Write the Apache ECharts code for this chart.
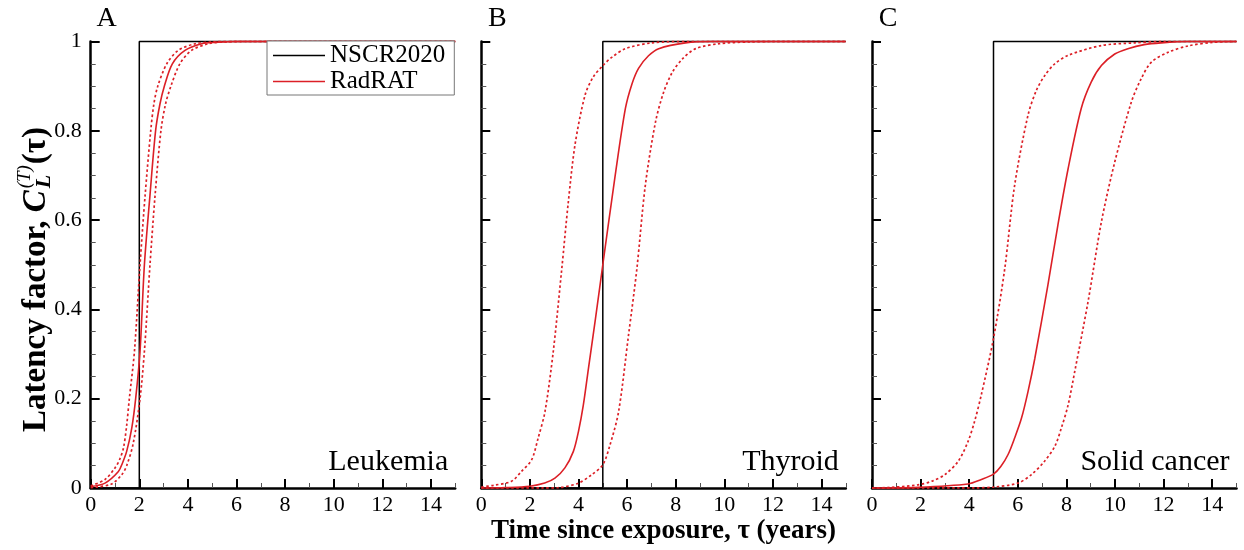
<!DOCTYPE html>
<html><head><meta charset="utf-8">
<script src="https://cdn.jsdelivr.net/npm/echarts@6/dist/echarts.min.js"></script>
<style>html,body{margin:0;padding:0;background:#fff}#c{width:1244px;height:550px}</style>
</head><body><div id="c"></div>
<script>
// ---- data ----
const panelLetters = ['A', 'B', 'C'];
const panelNames = ['Leukemia', 'Thyroid', 'Solid cancer'];
const xMajorTicks = [0, 2, 4, 6, 8, 10, 12, 14];
const xMinorTicks = [1, 3, 5, 7, 9, 11, 13, 15];
const xMax = 15;
const nscrOnset = [2, 5, 5];   // NSCR2020 step (years)

const leukemiaMedian = [[0,0.003],[0.59,0.011],[1.14,0.037],[1.3,0.055],[1.48,0.082],[1.69,0.134],[1.85,0.2],[2.03,0.306],[2.21,0.5],[2.44,0.656],[2.67,0.8],[2.85,0.86],[3.03,0.9],[3.36,0.95],[3.88,0.98],[4.57,0.995],[5.1,0.998],[6,1],[15,1]];
const leukemiaLow = [[0,0.005],[0.59,0.019],[1.0,0.045],[1.2,0.065],[1.35,0.09],[1.48,0.14],[1.59,0.2],[1.8,0.306],[2.03,0.5],[2.24,0.656],[2.47,0.8],[2.6,0.86],[2.76,0.9],[3.13,0.95],[3.6,0.98],[4.3,0.995],[5,0.999],[6,1],[15,1]];
const leukemiaHigh = [[0,0.001],[0.18,0.0015],[0.86,0.009],[1.28,0.03],[1.48,0.05],[1.75,0.1],[2.03,0.2],[2.21,0.306],[2.44,0.5],[2.65,0.656],[2.89,0.8],[3.08,0.86],[3.3,0.9],[3.67,0.95],[4.15,0.98],[4.84,0.995],[5.5,0.999],[6.5,1],[15,1]];

const thyroidMedian = [[0,0],[1,0.001],[2,0.004],[2.61,0.011],[3.03,0.022],[3.44,0.045],[3.79,0.082],[4.0,0.127],[4.2,0.186],[4.41,0.268],[4.7,0.38],[5.0,0.5],[5.51,0.70],[5.93,0.85],[6.2,0.905],[6.47,0.94],[6.88,0.968],[7.3,0.984],[8.4,0.997],[9.5,1],[15,1]];
const thyroidLow = [[0,0.002],[0.5,0.006],[1.24,0.015],[1.65,0.037],[2.07,0.063],[2.34,0.112],[2.62,0.171],[2.96,0.305],[3.31,0.49],[3.58,0.64],[3.86,0.77],[4.27,0.88],[4.6,0.92],[5.0,0.946],[5.38,0.965],[5.93,0.984],[7.03,0.997],[8.5,1],[15,1]];
const thyroidHigh = [[0,0],[2.5,0.0002],[3.17,0.0008],[4.0,0.011],[4.55,0.03],[5.0,0.052],[5.3,0.097],[5.65,0.171],[6.06,0.343],[6.4,0.49],[6.75,0.678],[7.17,0.82],[7.5,0.886],[7.85,0.93],[8.26,0.96],[8.82,0.984],[9.78,0.995],[11,0.999],[12,1],[15,1]];

const solidMedian = [[0,0],[1.89,0.0015],[3.95,0.009],[4.5,0.019],[5.0,0.031],[5.3,0.048],[5.6,0.075],[5.87,0.112],[6.15,0.156],[6.42,0.216],[6.7,0.29],[7.24,0.455],[7.65,0.589],[8.07,0.715],[8.61,0.85],[9.02,0.909],[9.44,0.946],[9.99,0.972],[10.53,0.984],[11.2,0.993],[11.9,0.997],[13,1],[15,1]];
const solidLow = [[0,0],[0.66,0.001],[1.89,0.007],[2.5,0.016],[3.0,0.03],[3.55,0.06],[3.95,0.104],[4.22,0.149],[4.5,0.209],[5.0,0.335],[5.46,0.49],[5.87,0.678],[6.42,0.835],[6.76,0.89],[7.11,0.924],[7.52,0.95],[8.07,0.969],[9.44,0.991],[10.81,0.997],[12,1],[15,1]];
const solidHigh = [[0,0],[4.2,0.0003],[5.0,0.002],[6.0,0.011],[6.56,0.03],[7.1,0.06],[7.52,0.093],[7.79,0.134],[8.07,0.186],[8.34,0.26],[8.89,0.417],[9.44,0.596],[9.99,0.73],[10.67,0.864],[11.08,0.917],[11.5,0.954],[12.19,0.976],[13,0.99],[14,0.998],[15,1]];

const medians = [leukemiaMedian, thyroidMedian, solidMedian];
const lows = [leukemiaLow, thyroidLow, solidLow];
const highs = [leukemiaHigh, thyroidHigh, solidHigh];

// ---- layout ----
const FONT = '"Liberation Serif", "Times New Roman", serif';
const gridLefts = [90.7, 481.3, 872];
const gridW = 364.5, gridTop = 41.5, gridH = 446.5;
const RED = '#dc1f26';

const chart = echarts.init(document.getElementById('c'), null, {renderer: 'canvas'});

const grids = [], xAxes = [], yAxes = [], series = [], graphics = [];
for (let i = 0; i < 3; i++) {
  grids.push({left: gridLefts[i], top: gridTop, width: gridW, height: gridH, containLabel: false});
  xAxes.push({
    type: 'value', gridIndex: i, min: 0, max: xMax, interval: 2,
    axisLine: {show: true, onZero: false, lineStyle: {color: '#000', width: 2.5}},
    axisTick: {show: true, inside: true, length: 9, customValues: xMajorTicks, lineStyle: {color: '#000', width: 2}},
    axisLabel: {show: true, margin: 6, customValues: xMajorTicks, color: '#000', fontFamily: FONT, fontSize: 22},
    splitLine: {show: false}
  });
  xAxes.push({
    type: 'value', gridIndex: i, min: 0, max: xMax, position: 'bottom',
    axisLine: {show: false},
    axisTick: {show: true, inside: true, length: 5, customValues: xMinorTicks, lineStyle: {color: '#555', width: 1}},
    axisLabel: {show: false},
    splitLine: {show: false}
  });
  yAxes.push({
    type: 'value', gridIndex: i, min: 0, max: 1, interval: 0.2,
    axisLine: {show: true, onZero: false, lineStyle: {color: '#000', width: 2.5}},
    axisTick: {show: true, inside: true, length: 9, lineStyle: {color: '#000', width: 2}},
    minorTick: {show: true, splitNumber: 4, length: 5, lineStyle: {color: '#555', width: 1}},
    axisLabel: {show: i === 0, margin: 9, color: '#000', fontFamily: FONT, fontSize: 22},
    splitLine: {show: false}, minorSplitLine: {show: false}
  });
  const t = nscrOnset[i];
  series.push({
    name: 'NSCR2020', type: 'line', xAxisIndex: 2 * i, yAxisIndex: i,
    data: [[0, 0], [t, 0], [t, 1], [xMax, 1]], showSymbol: false, symbol: 'none', clip: false,
    color: '#000', lineStyle: {color: '#000', width: 1.5}, z: 3
  });
  const curveBase = {type: 'line', name: 'RadRAT', xAxisIndex: 2 * i, yAxisIndex: i, showSymbol: false, symbol: 'none', clip: false, smooth: 0.3, color: RED, z: 4};
  series.push(Object.assign({}, curveBase, {data: medians[i], lineStyle: {color: RED, width: 1.6}}));
  series.push(Object.assign({}, curveBase, {data: lows[i], lineStyle: {color: RED, width: 1.7, type: [2.5, 2.5]}}));
  series.push(Object.assign({}, curveBase, {data: highs[i], lineStyle: {color: RED, width: 1.7, type: [2.5, 2.5]}}));
  // panel letter
  graphics.push({
    type: 'text', x: gridLefts[i] + 16, y: 28 - 0.33 * 28,
    style: {text: panelLetters[i], font: '28px ' + FONT, fill: '#000', align: 'center', verticalAlign: 'middle'}
  });
  // panel name
  graphics.push({
    type: 'text', x: gridLefts[i] + gridW - 7, y: 472 - 0.33 * 30,
    style: {text: panelNames[i], font: '30px ' + FONT, fill: '#000', align: 'right', verticalAlign: 'middle'}
  });
}

// x axis title
graphics.push({
  type: 'text', x: 663.5, y: 540 - 0.33 * 27,
  style: {text: 'Time since exposure, \u03c4 (years)', font: 'bold 27px ' + FONT, fill: '#000', align: 'center', verticalAlign: 'middle'}
});

// y axis title (rotated, with sub/superscript)
const mctx = document.createElement('canvas').getContext('2d');
function tw(text, font) { mctx.font = font; return mctx.measureText(text).width; }
const fMain = 'bold 33px ' + FONT;
const fC = 'italic bold 33px ' + FONT;
const fSup = 'italic 19px ' + FONT;
const fSub = 'italic bold 22px ' + FONT;
const p1 = 'Latency factor, ', p2 = 'C', pSup = '(T)', pSub = 'L', p3 = '(\u03c4)';
const w1 = tw(p1, fMain), w2 = tw(p2, fC), wSup = tw(pSup, fSup), wSub = tw(pSub, fSub);
const xS = w1 + w2 + 2;
const x3 = xS + Math.max(wSup, wSub) + 1;
graphics.push({
  type: 'group', x: 47, y: 432, rotation: Math.PI / 2,
  children: [
    {type: 'text', x: 0, y: -0.33 * 33, style: {text: p1, font: fMain, fill: '#000', align: 'left', verticalAlign: 'middle'}},
    {type: 'text', x: w1, y: -0.33 * 33, style: {text: p2, font: fC, fill: '#000', align: 'left', verticalAlign: 'middle'}},
    {type: 'text', x: xS, y: -16 - 0.33 * 19, style: {text: pSup, font: fSup, fill: '#000', align: 'left', verticalAlign: 'middle'}},
    {type: 'text', x: xS, y: 5 - 0.33 * 22, style: {text: pSub, font: fSub, fill: '#000', align: 'left', verticalAlign: 'middle'}},
    {type: 'text', x: x3, y: -0.33 * 33, style: {text: p3, font: fMain, fill: '#000', align: 'left', verticalAlign: 'middle'}}
  ]
});

chart.setOption({
  animation: false,
  backgroundColor: '#fff',
  grid: grids, xAxis: xAxes, yAxis: yAxes, series: series,
  legend: {
    show: true, orient: 'vertical', left: 267, top: 41,
    data: ['NSCR2020', 'RadRAT'], selectedMode: false,
    icon: 'rect', itemWidth: 52, itemHeight: 1.5, itemGap: 1,
    padding: [2, 9, 1, 6], borderColor: '#777', borderWidth: 1, backgroundColor: '#fff',
    textStyle: {color: '#000', fontFamily: FONT, fontSize: 25, lineHeight: 25},
    z: 10
  },
  graphic: graphics
});
</script></body></html>
